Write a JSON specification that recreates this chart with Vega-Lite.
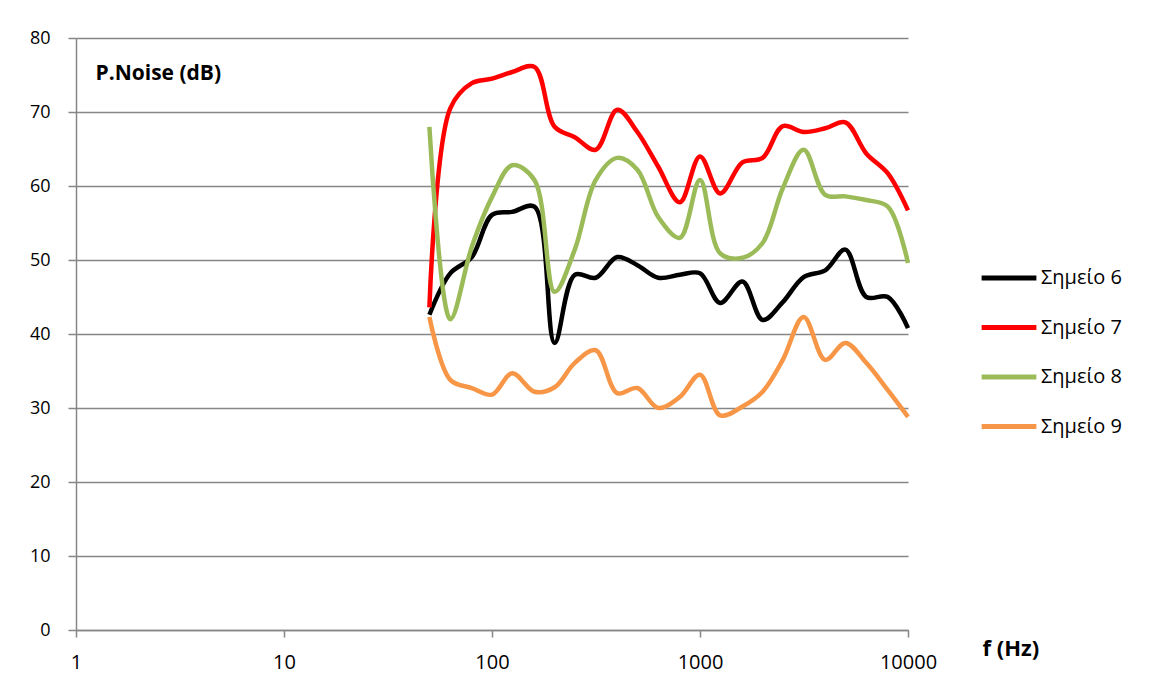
{
  "$schema": "https://vega.github.io/schema/vega-lite/v6.json",
  "width": 832,
  "height": 592,
  "autosize": "none",
  "padding": {"left": 76, "top": 38, "right": 250, "bottom": 60},
  "background": "white",
  "config": {
    "view": {"stroke": null},
    "font": "Open Sans"
  },
  "datasets": {
    "wide": [
      {"f": 50, "s6": 42.6, "s7": 43.6, "s8": 68.0, "s9": 42.3},
      {"f": 63, "s6": 48.2, "s7": 70.5, "s8": 42.0, "s9": 33.8},
      {"f": 80, "s6": 50.4, "s7": 73.9, "s8": 51.8, "s9": 32.7},
      {"f": 100, "s6": 56.1, "s7": 74.5, "s8": 58.5, "s9": 31.8},
      {"f": 125, "s6": 56.5, "s7": 75.4, "s8": 62.8, "s9": 34.7},
      {"f": 160, "s6": 57.2, "s7": 76.1, "s8": 60.8, "s9": 32.2},
      {"f": 200, "s6": 38.8, "s7": 68.0, "s8": 45.7, "s9": 32.8},
      {"f": 250, "s6": 48.0, "s7": 66.6, "s8": 51.4, "s9": 36.1},
      {"f": 315, "s6": 47.6, "s7": 64.9, "s8": 60.8, "s9": 37.8},
      {"f": 400, "s6": 50.4, "s7": 70.3, "s8": 63.8, "s9": 32.0},
      {"f": 500, "s6": 49.3, "s7": 67.3, "s8": 62.2, "s9": 32.7},
      {"f": 630, "s6": 47.6, "s7": 62.6, "s8": 55.8, "s9": 30.0},
      {"f": 800, "s6": 48.0, "s7": 57.8, "s8": 53.0, "s9": 31.5},
      {"f": 1000, "s6": 48.2, "s7": 64.0, "s8": 60.8, "s9": 34.5},
      {"f": 1250, "s6": 44.2, "s7": 59.0, "s8": 50.9, "s9": 29.0},
      {"f": 1600, "s6": 47.1, "s7": 63.2, "s8": 50.3, "s9": 30.2},
      {"f": 2000, "s6": 41.9, "s7": 63.8, "s8": 52.3, "s9": 32.2},
      {"f": 2500, "s6": 44.3, "s7": 68.1, "s8": 59.7, "s9": 36.5},
      {"f": 3150, "s6": 47.7, "s7": 67.3, "s8": 64.9, "s9": 42.3},
      {"f": 4000, "s6": 48.6, "s7": 67.8, "s8": 58.8, "s9": 36.5},
      {"f": 5000, "s6": 51.4, "s7": 68.6, "s8": 58.6, "s9": 38.8},
      {"f": 6300, "s6": 45.0, "s7": 64.4, "s8": 58.1, "s9": 36.1},
      {"f": 8000, "s6": 45.0, "s7": 61.7, "s8": 57.2, "s9": 32.4},
      {"f": 10000, "s6": 40.8, "s7": 56.7, "s8": 49.6, "s9": 28.8}
    ]
  },
  "data": {"name": "wide"},
  "transform": [
    {"fold": ["s6", "s7", "s8", "s9"], "as": ["key", "dB"]},
    {"lookup": "key", "from": {"data": {"values": [
      {"key": "s6", "series": "Σημείο 6"},
      {"key": "s7", "series": "Σημείο 7"},
      {"key": "s8", "series": "Σημείο 8"},
      {"key": "s9", "series": "Σημείο 9"}
    ]}, "key": "key", "fields": ["series"]}}
  ],
  "mark": {"type": "line", "interpolate": "catmull-rom", "strokeWidth": 4.5},
  "encoding": {
    "x": {
      "field": "f", "type": "quantitative",
      "scale": {"type": "log", "domain": [1, 10000], "nice": false},
      "axis": {
        "values": [1, 10, 100, 1000, 10000],
        "format": "d",
        "grid": false,
        "domainColor": "#868686", "domainWidth": 1.5,
        "tickColor": "#868686", "tickWidth": 1.5, "tickSize": 7,
        "labelFontSize": 20, "labelColor": "#000", "labelPadding": 15,
        "labelFlush": false,
        "title": "f (Hz)",
        "titleFontSize": 22, "titleFontWeight": "bold", "titleColor": "#000",
        "titleAnchor": "start", "titleAlign": "left", "titleBaseline": "middle",
        "titleX": 906, "titleY": 18
      }
    },
    "y": {
      "field": "dB", "type": "quantitative",
      "scale": {"domain": [0, 80], "nice": false},
      "axis": {
        "values": [0, 10, 20, 30, 40, 50, 60, 70, 80],
        "grid": true, "gridColor": "#868686", "gridWidth": 1.5,
        "domainColor": "#868686", "domainWidth": 1.5,
        "tickColor": "#868686", "tickWidth": 1.5, "tickSize": 8,
        "labelFontSize": 18, "labelColor": "#000", "labelPadding": 18,
        "title": "P.Noise (dB)",
        "titleFontSize": 21, "titleFontWeight": "bold", "titleColor": "#000",
        "titleAngle": 0, "titleAlign": "left", "titleBaseline": "middle",
        "titleX": 19, "titleY": 35
      }
    },
    "color": {
      "field": "series", "type": "nominal",
      "scale": {
        "domain": ["Σημείο 6", "Σημείο 7", "Σημείο 8", "Σημείο 9"],
        "range": ["#000000", "#FF0000", "#9BBB59", "#F79646"]
      },
      "legend": {
        "title": null,
        "orient": "none",
        "legendX": 903,
        "legendY": 210,
        "padding": 0,
        "symbolType": "stroke",
        "symbolSize": 3000,
        "symbolStrokeWidth": 5,
        "labelFontSize": 20,
        "labelColor": "#000",
        "labelOffset": 2,
        "rowPadding": 9.5
      }
    }
  }
}
